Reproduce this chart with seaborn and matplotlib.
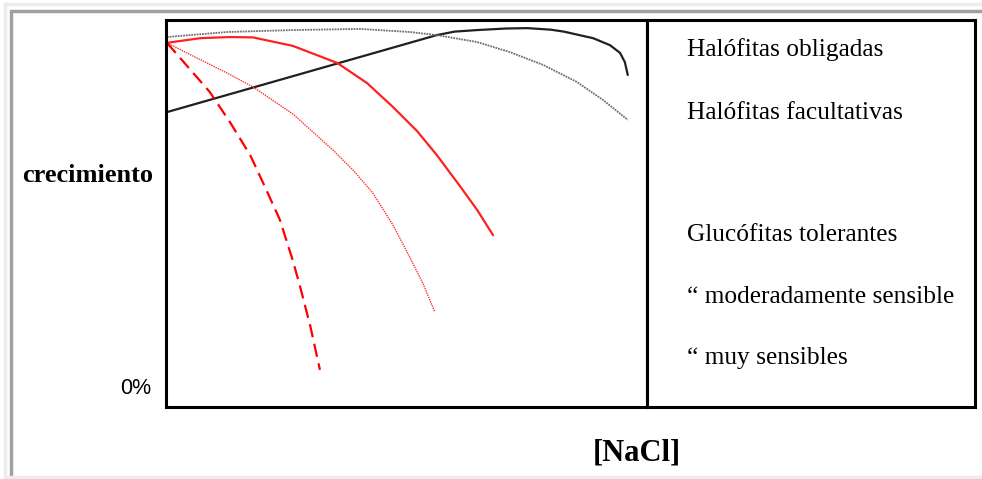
import matplotlib
matplotlib.use("Agg")
import matplotlib.pyplot as plt
from matplotlib.lines import Line2D
import seaborn as sns

# curvas: x = [NaCl] (0-100), y = crecimiento (0-100)
obligadas_x = [0.2, 56.3, 60.0, 64.7, 70.7, 75.1, 80.0, 82.7, 88.8, 92.3, 94.4, 95.4, 96.0]
obligadas_y = [76.2, 96.1, 97.0, 97.4, 97.8, 97.9, 97.5, 97.0, 95.3, 93.5, 91.5, 89.1, 85.8]

facultativas_x = [0.2, 12.7, 26.4, 40.3, 50.7, 56.3, 64.7, 71.5, 78.4, 85.4, 90.9, 96.0]
facultativas_y = [95.6, 96.9, 97.4, 97.7, 96.9, 96.1, 94.3, 91.7, 88.4, 84.0, 79.3, 74.2]

tolerantes_x = [0.2, 7.1, 13.3, 18.1, 26.4, 35.6, 41.8, 47.2, 52.2, 56.3, 61.1, 64.7, 68.0]
tolerantes_y = [94.1, 95.3, 95.6, 95.5, 93.3, 88.9, 83.7, 77.5, 71.3, 65.1, 57.1, 50.9, 44.4]

moderadas_x = [0.2, 5.6, 12.7, 18.1, 26.4, 34.7, 38.9, 43.0, 47.2, 50.1, 53.4, 55.9]
moderadas_y = [94.1, 90.7, 86.3, 82.7, 75.7, 66.4, 61.2, 55.3, 47.0, 40.1, 32.0, 24.5]

sensibles_x = [0.2, 4.4, 9.1, 13.3, 17.5, 20.6, 23.7, 26.4, 27.9, 30.0, 32.0]
sensibles_y = [94.1, 88.1, 81.4, 73.6, 65.1, 56.8, 48.3, 37.7, 31.0, 20.9, 9.6]

labels = ["Halófitas obligadas", "Halófitas facultativas", "Glucófitas tolerantes",
          "\u201c moderadamente sensible", "\u201c muy sensibles"]
label_rows = [50, 113, 235, 297, 358]  # posición vertical (px desde arriba)

sns.set_style("white")
plt.rcParams['font.family'] = ['Liberation Serif', 'DejaVu Serif']
plt.rcParams['text.color'] = 'black'

W, H = 982, 479
fig = plt.figure(figsize=(W / 100, H / 100), dpi=100)

# marco gris de la página
fig.add_artist(Line2D([5 / W, 5 / W], [0, 1 - 4 / H], color="#ececec", lw=2.5, transform=fig.transFigure))
fig.add_artist(Line2D([5 / W, 1], [1 - 4 / H, 1 - 4 / H], color="#ececec", lw=2.5, transform=fig.transFigure))
fig.add_artist(Line2D([11 / W, 11 / W], [2 / H, 1 - 11 / H], color="#a0a0a0", lw=2.5, transform=fig.transFigure))
fig.add_artist(Line2D([11 / W, 1], [1 - 11 / H, 1 - 11 / H], color="#a0a0a0", lw=2.5, transform=fig.transFigure))
fig.add_artist(Line2D([5 / W, 1], [2 / H, 2 / H], color="#ececec", lw=2.5, transform=fig.transFigure))

x0, x1, x2 = 166, 647, 975
ytop, ybot = 20, 407
ax = fig.add_axes([x0 / W, 1 - ybot / H, (x1 - x0) / W, (ybot - ytop) / H])
leg = fig.add_axes([x1 / W, 1 - ybot / H, (x2 - x1) / W, (ybot - ytop) / H])

sns.lineplot(x=obligadas_x, y=obligadas_y, ax=ax, color="#202020", lw=1.6)
sns.lineplot(x=facultativas_x, y=facultativas_y, ax=ax, color="#707070", lw=1.3, linestyle=(0, (1, 0.5)))
sns.lineplot(x=tolerantes_x, y=tolerantes_y, ax=ax, color="#ff2020", lw=1.6)
sns.lineplot(x=moderadas_x, y=moderadas_y, ax=ax, color="#ff3030", lw=1.0, linestyle=(0, (1, 0.7)))
sns.lineplot(x=sensibles_x, y=sensibles_y, ax=ax, color="#ff0000", lw=1.6, linestyle=(0, (6, 3)))

ax.set_xlim(0, 100)
ax.set_ylim(0, 100)
for a in (ax, leg):
    a.set_xticks([])
    a.set_yticks([])
    for s in a.spines.values():
        s.set_color("black")
        s.set_linewidth(2.2)
leg.set_xlim(0, 1)
leg.set_ylim(0, 1)

for lab, row in zip(labels, label_rows):
    leg.text((687 - x1) / (x2 - x1), (ybot - row) / (ybot - ytop), lab,
             fontsize=18.3, va="center", ha="left")

fig.text(153 / W, 1 - 176 / H, "crecimiento", fontsize=19, fontweight="bold",
         ha="right", va="center")
fig.text(151 / W, 1 - 388 / H, "0%", fontsize=15.5, family="Liberation Sans",
         ha="right", va="center")
fig.text(637 / W, 1 - 453 / H, "[NaCl]", fontsize=22, fontweight="bold",
         ha="center", va="center")

fig.savefig("out.png", dpi=100)
